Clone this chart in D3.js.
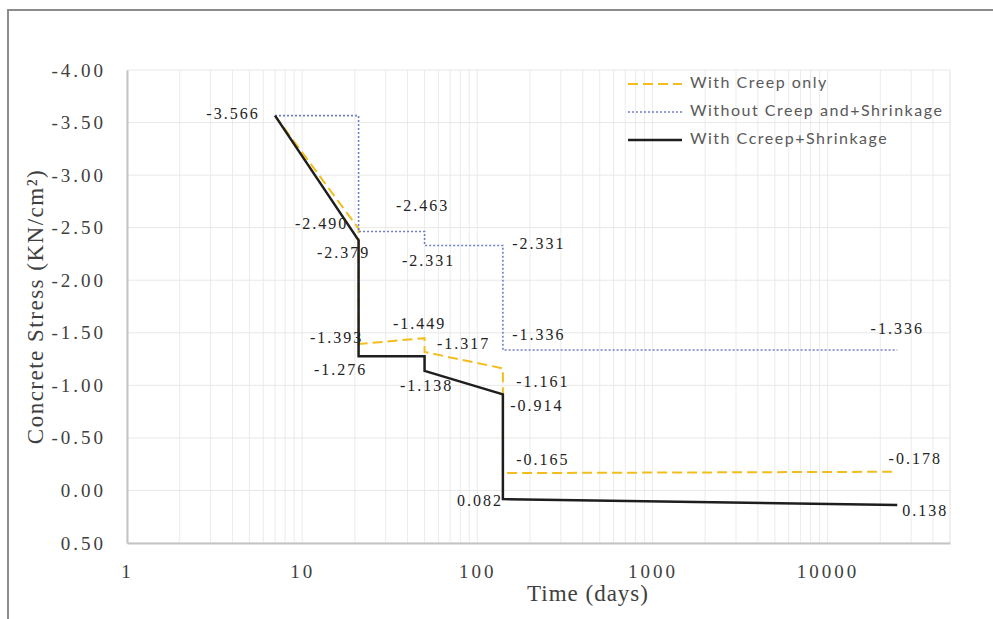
<!DOCTYPE html>
<html>
<head>
<meta charset="utf-8">
<script src="https://cdn.jsdelivr.net/npm/d3@7"></script>
<style>
  body { margin: 0; background: #fff; }
  svg { display: block; }
</style>
</head>
<body>
<div id="chart"></div>
<script>
// data
var days = [7, 21, 50, 140, 25000];
var seriesNames = ["With Creep only", "Without Creep and+Shrinkage", "With Ccreep+Shrinkage"];
// each series: [day, stress] vertices (steps are repeated days)
var creepOnly = [[7, -3.566], [21, -2.490], [21, -1.393], [50, -1.449], [50, -1.317], [140, -1.161], [140, -0.165], [25000, -0.178]];
var noCreep = [[7, -3.566], [21, -3.566], [21, -2.463], [50, -2.463], [50, -2.331], [140, -2.331], [140, -1.336], [25000, -1.336]];
var creepShrink = [[7, -3.566], [21, -2.379], [21, -1.276], [50, -1.276], [50, -1.138], [140, -0.914], [140, 0.082], [25000, 0.138]];
var yTicks = [-4, -3.5, -3, -2.5, -2, -1.5, -1, -0.5, 0, 0.5];
var xTicks = [1, 10, 100, 1000, 10000];

// value labels: series, vertex index, pixel offset
var annotations = [
  {s: noCreep, i: 0, dx: -42, dy: 0},
  {s: creepOnly, i: 1, dx: -37, dy: -3},
  {s: noCreep, i: 2, dx: 64, dy: -24},
  {s: creepShrink, i: 1, dx: -15, dy: 14},
  {s: noCreep, i: 4, dx: 4, dy: 17},
  {s: noCreep, i: 5, dx: 36, dy: 0},
  {s: creepOnly, i: 2, dx: -22, dy: -5},
  {s: creepOnly, i: 3, dx: -5, dy: -13},
  {s: creepOnly, i: 4, dx: 39, dy: -7},
  {s: noCreep, i: 6, dx: 36, dy: -14},
  {s: creepShrink, i: 2, dx: -18, dy: 15},
  {s: creepShrink, i: 4, dx: 2, dy: 17},
  {s: creepOnly, i: 5, dx: 40, dy: 15},
  {s: creepShrink, i: 5, dx: 34, dy: 13},
  {s: creepOnly, i: 6, dx: 40, dy: -12},
  {s: creepOnly, i: 7, dx: 18, dy: -11},
  {s: creepShrink, i: 6, dx: -23, dy: 3},
  {s: creepShrink, i: 7, dx: 28, dy: 7},
  {s: noCreep, i: 7, dx: 0, dy: -20}
];

var serif = "'Liberation Serif', 'Times New Roman', Times, serif";
// plain hyphen for negatives, like the original
var locale = d3.formatLocale({decimal: ".", thousands: ",", grouping: [3], currency: ["", ""], minus: "-"});

function drawChart() {
  var W = 993, H = 619;
  var pl = 127, pr = 950, pt = 70, pb = 543;

  var svg = d3.select("#chart").append("svg")
    .attr("width", W).attr("height", H);

  svg.append("rect").attr("width", W).attr("height", H).attr("fill", "#fff");

  // outer frame (only top and left visible)
  svg.append("path")
    .attr("d", "M8," + H + "V10H" + W)
    .attr("fill", "none").attr("stroke", "#8c8c8c").attr("stroke-width", 2);

  var x = d3.scaleLog().domain([1, 50000]).range([pl, pr]);
  var y = d3.scaleLinear().domain([-4, 0.5]).range([pt, pb]);

  // grid
  var vgrid = [];
  for (var k = 0; k <= 4; k++) {
    for (var m = 1; m <= 9; m++) {
      var v = m * Math.pow(10, k);
      if (v <= 50000) vgrid.push(v);
    }
  }
  vgrid.push(50000);
  svg.append("g").selectAll("line").data(vgrid).enter().append("line")
    .attr("x1", d => x(d)).attr("x2", d => x(d))
    .attr("y1", pt).attr("y2", pb)
    .attr("stroke", "#ebebeb").attr("stroke-width", 1);
  svg.append("g").selectAll("line").data(yTicks).enter().append("line")
    .attr("x1", pl).attr("x2", pr)
    .attr("y1", d => y(d)).attr("y2", d => y(d))
    .attr("stroke", "#e8e8e8").attr("stroke-width", 1);

  // axes
  var yAxis = svg.append("g").attr("transform", "translate(" + pl + ",0)")
    .call(d3.axisLeft(y).tickValues(yTicks).tickFormat(locale.format(".2f")).tickSize(0).tickPadding(21));
  var xAxis = svg.append("g").attr("transform", "translate(0," + pb + ")")
    .call(d3.axisBottom(x).tickValues(xTicks).tickFormat(d => d).tickSize(0).tickPadding(22));
  [yAxis, xAxis].forEach(function(g) {
    g.attr("font-family", null);
    g.select(".domain").attr("stroke", "#c4c4c4").attr("stroke-width", 2);
    g.selectAll("text")
      .style("font-family", serif)
      .style("font-size", "19px")
      .style("letter-spacing", "3px")
      .attr("fill", "#404040");
  });

  // axis titles
  svg.append("text")
    .attr("transform", "translate(38," + ((pt + pb) / 2) + ") rotate(-90)")
    .attr("text-anchor", "middle")
    .attr("dominant-baseline", "middle")
    .style("font-family", serif)
    .style("font-size", "23px")
    .style("letter-spacing", "1.5px")
    .attr("fill", "#404040")
    .text("Concrete Stress (KN/cm\u00b2)");
  svg.append("text")
    .attr("x", 588).attr("y", 601)
    .attr("text-anchor", "middle")
    .style("font-family", serif)
    .style("font-size", "23px")
    .style("letter-spacing", "1px")
    .attr("fill", "#404040")
    .text("Time (days)");

  // series
  var line = d3.line().x(d => x(d[0])).y(d => y(d[1]));
  var styles = [
    {data: creepOnly, color: "#f2bd1d", width: 2, dash: "10,5"},
    {data: noCreep, color: "#6f7fc6", width: 1.6, dash: "2,2"},
    {data: creepShrink, color: "#1e1e1e", width: 2.5, dash: null}
  ];
  styles.forEach(function(s) {
    svg.append("path")
      .datum(s.data)
      .attr("d", line)
      .attr("fill", "none")
      .attr("stroke", s.color)
      .attr("stroke-width", s.width)
      .attr("stroke-dasharray", s.dash);
  });

  // value labels
  var fmt = locale.format(".3f");
  svg.append("g").selectAll("text").data(annotations).enter().append("text")
    .attr("x", d => x(d.s[d.i][0]) + d.dx)
    .attr("y", d => y(d.s[d.i][1]) + d.dy)
    .attr("text-anchor", "middle")
    .attr("dominant-baseline", "middle")
    .style("font-family", serif)
    .style("font-size", "16px")
    .style("letter-spacing", "2px")
    .attr("fill", "#222")
    .text(d => fmt(d.s[d.i][1]));

  // legend
  var legend = svg.append("g");
  styles.forEach(function(s, i) {
    var ly = 84 + i * 28;
    legend.append("line")
      .attr("x1", 628).attr("x2", 682).attr("y1", ly).attr("y2", ly)
      .attr("stroke", s.color).attr("stroke-width", s.width)
      .attr("stroke-dasharray", s.dash);
    legend.append("text")
      .attr("x", 690).attr("y", ly)
      .attr("dominant-baseline", "middle")
      .style("font-family", "Lato, 'Open Sans', sans-serif")
      .style("font-size", "16px")
      .style("letter-spacing", "1.5px")
      .attr("fill", "#595959")
      .text(seriesNames[i]);
  });
}

drawChart();
</script>
</body>
</html>
